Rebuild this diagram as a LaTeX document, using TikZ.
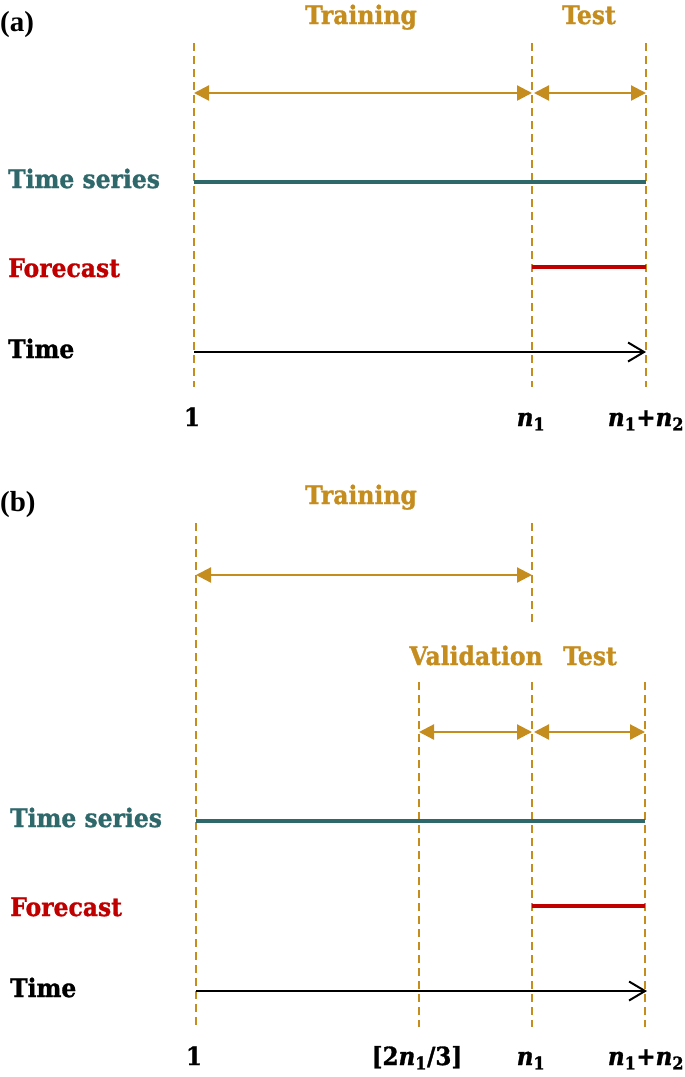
\documentclass[tikz,border=0pt]{standalone}
\usepackage{fontspec}
\setmainfont{DejaVu Serif}
\newfontfamily\lblfont{DejaVu Serif}[FakeStretch=0.92, BoldFeatures={FakeBold=1.2}, BoldItalicFeatures={FakeBold=1.2}]
\newfontfamily\tagfont{Liberation Serif}
\usetikzlibrary{arrows.meta}
\definecolor{gold}{RGB}{197,140,30}
\definecolor{tealc}{RGB}{46,104,107}
\definecolor{redc}{RGB}{192,0,0}
\newcommand\nsub[1]{\textit{n}\textsubscript{#1}}
\begin{document}
\begin{tikzpicture}[x=1pt,y=-1pt,
  lbl/.style={font=\fontsize{25.5}{30}\selectfont\lblfont\bfseries, inner sep=0pt, anchor=base west},
  goldlbl/.style={font=\fontsize{25.5}{30}\selectfont\lblfont\bfseries, inner sep=0pt, anchor=base, text=gold},
  mlbl/.style={font=\fontsize{25}{30}\selectfont\lblfont\bfseries, inner sep=0pt, anchor=base},
  tagl/.style={font=\fontsize{29}{32}\selectfont\tagfont\bfseries, inner sep=0pt, anchor=base west},
  guide/.style={draw=gold, line width=2.4pt, dash pattern=on 7.5pt off 5.5pt},
  span/.style={draw=gold, line width=2.2pt, {Triangle[length=15pt,width=15pt]}-{Triangle[length=15pt,width=15pt]}},
  series/.style={draw=tealc, line width=4pt},
  fc/.style={draw=redc, line width=3.5pt},
  timeax/.style={draw=black, line width=2pt, -{Straight Barb[length=16pt,width=19pt,line width=2pt]}}]
\useasboundingbox (0,0) rectangle (685,1077);

% ---------------- panel (a) ----------------
\node[tagl] (atag) at (0,31) {(a)};
\node[goldlbl] (atrain) at (361,24) {Training};
\node[goldlbl] (atest) at (589,24) {Test};
\node[lbl, text=tealc] (aser) at (8,188) {Time series};
\node[lbl, text=redc] (afc) at (8,277) {Forecast};
\node[lbl] (atime) at (8,358) {Time};
\node[mlbl] (aone) at (192,426) {1};
\node[mlbl] (an1) at (531,426) {\nsub{1}};
\node[mlbl] (an12) at (646,426) {\nsub{1}+\nsub{2}};

\coordinate (aAt) at (194,43); \coordinate (aAb) at (194,387);
\coordinate (aBt) at (532,43); \coordinate (aBb) at (532,387);
\coordinate (aCt) at (646,43); \coordinate (aCb) at (646,387);
\draw[guide] (aAt) -- (aAb);
\draw[guide] (aBt) -- (aBb);
\draw[guide] (aCt) -- (aCb);

\coordinate (aTr0) at (194,93); \coordinate (aTr1) at (532,93);
\coordinate (aTe0) at (534,93); \coordinate (aTe1) at (646,93);
\draw[span] (aTr0) -- (aTr1);
\draw[span] (aTe0) -- (aTe1);

\coordinate (aS0) at (194,182); \coordinate (aS1) at (646,182);
\draw[series] (aS0) -- (aS1);
\coordinate (aF0) at (532,267); \coordinate (aF1) at (646,267);
\draw[fc] (aF0) -- (aF1);
\coordinate (aX0) at (194,352); \coordinate (aX1) at (646,352);
\draw[timeax] (aX0) -- (aX1);

% ---------------- panel (b) ----------------
\node[tagl] (btag) at (0,511) {(b)};
\node[goldlbl] (btrain) at (361,504) {Training};
\node[goldlbl] (bval) at (476,665) {Validation};
\node[goldlbl] (btest) at (590,665) {Test};
\node[lbl, text=tealc] (bser) at (10,827) {Time series};
\node[lbl, text=redc] (bfc) at (10,916) {Forecast};
\node[lbl] (btime) at (10,997) {Time};
\node[mlbl] (bone) at (194,1065) {1};
\node[mlbl] (b23) at (417,1065) {[2\nsub{1}/3]};
\node[mlbl] (bn1) at (531,1065) {\nsub{1}};
\node[mlbl] (bn12) at (646,1065) {\nsub{1}+\nsub{2}};

\coordinate (bAt) at (196,523); \coordinate (bAb) at (196,1027);
\coordinate (bBt) at (532,523); \coordinate (bBm) at (532,624);
\coordinate (bBu) at (532,682); \coordinate (bBb) at (532,1027);
\coordinate (bVt) at (419,682); \coordinate (bVb) at (419,1027);
\coordinate (bCt) at (645,682); \coordinate (bCb) at (645,1027);
\draw[guide] (bAt) -- (bAb);
\draw[guide] (bBt) -- (bBm);
\draw[guide] (bBu) -- (bBb);
\draw[guide] (bVt) -- (bVb);
\draw[guide] (bCt) -- (bCb);

\coordinate (bTr0) at (196,575); \coordinate (bTr1) at (532,575);
\draw[span] (bTr0) -- (bTr1);
\coordinate (bVa0) at (419,732); \coordinate (bVa1) at (532,732);
\coordinate (bTe0) at (534,732); \coordinate (bTe1) at (645,732);
\draw[span] (bVa0) -- (bVa1);
\draw[span] (bTe0) -- (bTe1);

\coordinate (bS0) at (196,821); \coordinate (bS1) at (645,821);
\draw[series] (bS0) -- (bS1);
\coordinate (bF0) at (532,906); \coordinate (bF1) at (645,906);
\draw[fc] (bF0) -- (bF1);
\coordinate (bX0) at (196,991); \coordinate (bX1) at (647,991);
\draw[timeax] (bX0) -- (bX1);
\end{tikzpicture}
\end{document}
